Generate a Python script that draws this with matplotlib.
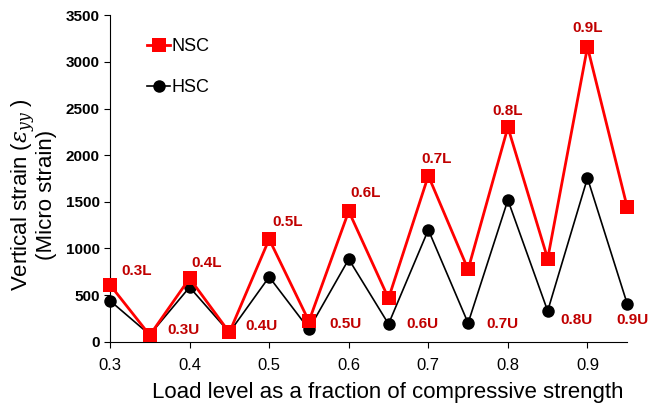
import numpy as np
import matplotlib
matplotlib.use('Agg')
import matplotlib.pyplot as plt

plt.rcParams['font.family'] = ['Liberation Sans', 'DejaVu Sans']
plt.rcParams['mathtext.fontset'] = 'dejavuserif'

# load level (fraction of compressive strength)
load = [0.30, 0.35, 0.40, 0.45, 0.50, 0.55, 0.60, 0.65, 0.70, 0.75, 0.80, 0.85, 0.90, 0.95]
nsc = [610, 70, 680, 100, 1100, 220, 1400, 465, 1780, 775, 2300, 890, 3160, 1440]
hsc = [440, 75, 585, 100, 695, 135, 885, 190, 1200, 200, 1520, 330, 1755, 405]

l_labels = ['0.3L', '0.4L', '0.5L', '0.6L', '0.7L', '0.8L', '0.9L']
u_labels = ['0.3U', '0.4U', '0.5U', '0.6U', '0.7U', '0.8U', '0.9U']

label_color = '#C00000'


def main():
    fig = plt.figure(figsize=(6.49, 4.03), dpi=100)
    ax = fig.add_axes([0.1695, 0.152, 0.797, 0.81])

    ax.plot(load, nsc, color='red', lw=2.0, marker='s', ms=9.5,
            markeredgewidth=0, label='NSC', zorder=3, clip_on=False)
    ax.plot(load, hsc, color='black', lw=1.2, marker='o', ms=9,
            markeredgewidth=0, label='HSC', zorder=2, clip_on=False)

    # loading labels above the NSC peaks
    l_off = [(19, 10), (12, 11), (13, 12), (12, 13), (6, 12), (0, 12), (0, 14)]
    for lab, x, y, off in zip(l_labels, load[0::2], nsc[0::2], l_off):
        ax.annotate(lab, (x, y), xytext=off, textcoords='offset points',
                    ha='center', va='center', color=label_color,
                    fontsize=11, fontweight='bold')

    # unloading labels next to the valleys
    u_dx = [0.042, 0.041, 0.046, 0.042, 0.043, 0.036, 0.007]
    u_y = [125, 170, 190, 190, 190, 230, 230]
    for lab, x, dx, y in zip(u_labels, load[1::2], u_dx, u_y):
        ax.text(x + dx, y, lab, ha='center', va='center', color=label_color,
                fontsize=11, fontweight='bold')

    ax.set_xlim(0.3, 0.95)
    ax.set_ylim(0, 3500)
    ax.set_xticks([0.3, 0.4, 0.5, 0.6, 0.7, 0.8, 0.9])
    ax.set_xticklabels(['0.3', '0.4', '0.5', '0.6', '0.7', '0.8', '0.9'])
    ax.set_yticks(np.arange(0, 3501, 500))
    ax.tick_params(axis='x', labelsize=12, length=4, pad=8)
    ax.tick_params(axis='y', labelsize=11, length=4)
    for t in ax.get_yticklabels():
        t.set_fontweight('bold')

    ax.spines['top'].set_visible(False)
    ax.spines['right'].set_visible(False)

    ax.set_xlabel('Load level as a fraction of compressive strength',
                  fontsize=16, labelpad=6, x=0.536)
    ax.set_ylabel('Vertical strain ($\\varepsilon_{yy}$ )\n(Micro strain)',
                  fontsize=16, labelpad=6, linespacing=0.9, y=0.45)

    ax.legend(loc='upper left', bbox_to_anchor=(0.04, 0.98), frameon=False,
              fontsize=13, handlelength=1.3, handletextpad=0.05,
              labelspacing=1.35)

    fig.savefig('out.png', dpi=100)


if __name__ == '__main__':
    main()
